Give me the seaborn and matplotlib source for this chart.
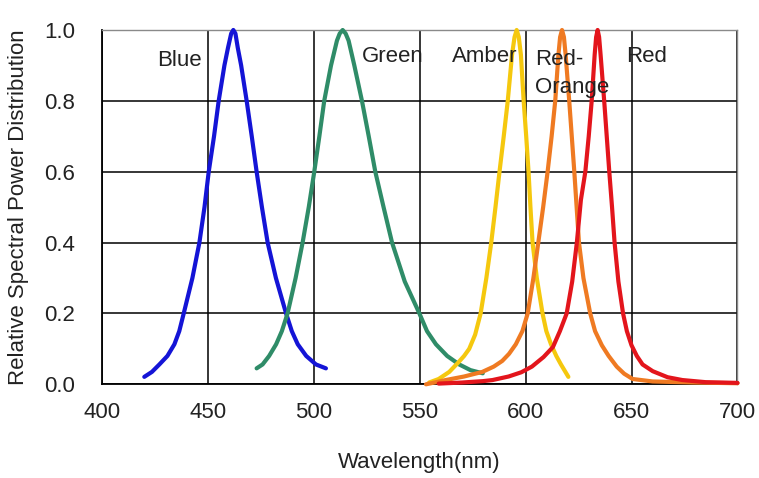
import matplotlib
matplotlib.use("Agg")
import matplotlib.pyplot as plt
import pandas as pd
import seaborn as sns

# ---- data ----
led_names = ["Blue", "Green", "Amber", "Red-Orange", "Red"]
led_colors = ["#1414d6", "#2f8c68", "#f5c80e", "#ef7a22", "#e3151c"]

blue_wl = [420.1, 423.7, 427.2, 431.0, 434.3, 436.6, 438.7, 442.8, 446.1, 448.5, 450.5, 453.0,
           455.2, 457.9, 459.6, 461.1, 462.1, 463.1, 464.2, 465.8, 468.4, 470.8, 473.1, 475.6,
           478.3, 482.2, 487.0, 489.7, 492.5, 496.5, 501.1, 505.8]
blue_val = [0.021, 0.035, 0.056, 0.08, 0.113, 0.15, 0.2, 0.3, 0.4, 0.5, 0.6, 0.7,
            0.8, 0.9, 0.95, 0.99, 1.0, 0.99, 0.95, 0.9, 0.8, 0.7, 0.6, 0.5,
            0.4, 0.3, 0.2, 0.15, 0.113, 0.08, 0.056, 0.045]

green_wl = [473.1, 475.9, 479.0, 482.3, 485.0, 487.7, 491.5, 494.8, 497.7, 500.3, 502.7, 505.0,
            508.2, 511.0, 512.3, 513.7, 515.1, 516.5, 519.2, 522.8, 526.0, 529.1, 533.0, 537.0,
            543.0, 549.9, 553.5, 557.7, 563.0, 568.7, 574.0, 579.8]
green_val = [0.045, 0.056, 0.08, 0.113, 0.15, 0.2, 0.3, 0.4, 0.5, 0.6, 0.7, 0.8,
             0.9, 0.97, 0.99, 1.0, 0.99, 0.97, 0.9, 0.8, 0.7, 0.6, 0.5, 0.4,
             0.29, 0.2, 0.15, 0.113, 0.08, 0.056, 0.04, 0.031]

amber_wl = [554.5, 559.0, 564.0, 568.0, 571.0, 573.4, 576.2, 578.8, 581.5, 583.8, 585.8, 587.7,
            589.7, 591.6, 593.6, 594.8, 595.8, 596.8, 597.8, 599.1, 600.3, 601.4, 602.3, 603.3,
            605.3, 608.0, 609.8, 612.0, 614.5, 616.7, 620.2]
amber_val = [0.005, 0.015, 0.035, 0.06, 0.08, 0.1, 0.14, 0.2, 0.3, 0.4, 0.5, 0.6,
             0.7, 0.8, 0.93, 0.98, 1.0, 0.98, 0.93, 0.8, 0.7, 0.6, 0.5, 0.4,
             0.3, 0.2, 0.15, 0.113, 0.08, 0.056, 0.021]

redorange_wl = [553.0, 557.0, 562.3, 571.0, 579.6, 585.0, 589.0, 592.2, 595.4, 598.5, 601.0,
                603.7, 606.0, 608.3, 610.4, 612.3, 614.0, 615.5, 616.3, 617.2, 618.1, 618.9,
                620.6, 621.8, 623.0, 624.1, 625.2, 627.3, 630.5, 632.8, 636.0, 639.2, 643.0,
                646.5, 650.5, 660.0, 680.0, 700.0]
redorange_val = [0.0, 0.005, 0.012, 0.022, 0.035, 0.05, 0.066, 0.086, 0.113, 0.15, 0.2,
                 0.3, 0.4, 0.5, 0.6, 0.7, 0.8, 0.93, 0.98, 1.0, 0.98, 0.93,
                 0.8, 0.7, 0.6, 0.5, 0.4, 0.3, 0.2, 0.15, 0.11, 0.08, 0.05,
                 0.03, 0.015, 0.008, 0.005, 0.003]

red_wl = [559.0, 570.0, 580.0, 584.4, 592.0, 598.0, 603.0, 608.5, 612.9, 616.2, 619.4, 622.0,
          624.2, 626.1, 628.2, 629.8, 631.2, 632.6, 633.3, 634.0, 634.7, 635.4, 637.1, 638.3,
          639.5, 640.8, 642.0, 643.8, 646.0, 647.8, 650.0, 652.5, 655.2, 660.0, 667.0, 674.0,
          685.0, 700.0]
red_val = [0.002, 0.005, 0.009, 0.012, 0.022, 0.034, 0.05, 0.077, 0.105, 0.15, 0.2, 0.29,
           0.4, 0.52, 0.6, 0.7, 0.8, 0.93, 0.98, 1.0, 0.98, 0.93, 0.8, 0.7,
           0.6, 0.5, 0.4, 0.29, 0.2, 0.15, 0.11, 0.08, 0.056, 0.037, 0.02, 0.012,
           0.006, 0.004]

x_ticks = [400, 450, 500, 550, 600, 650, 700]
y_ticks = [0.0, 0.2, 0.4, 0.6, 0.8, 1.0]
y_tick_labels = ["0.0", "0.2", "0.4", "0.6", "0.8", "1.0"]

# label anchors (left edge wavelength, vertical value)
label_texts = ["Blue", "Green", "Amber", "Red-\nOrange", "Red"]
label_x = [426.0, 522.6, 565.3, 604.3, 647.5]
label_y = [0.913, 0.925, 0.925, 0.877, 0.925]

x_title = "Wavelength(nm)"
y_title = "Relative Spectral Power Distribution"

# ---- build long-form table ----
series = [blue_wl, green_wl, amber_wl, redorange_wl, red_wl]
values = [blue_val, green_val, amber_val, redorange_val, red_val]
rows = []
for name, wl, val in zip(led_names, series, values):
    rows += [(name, w, v) for w, v in zip(wl, val)]
df = pd.DataFrame(rows, columns=["LED", "Wavelength", "Power"])
palette = dict(zip(led_names, led_colors))

sns.set_style("white")
plt.rcParams["font.family"] = ["Liberation Sans", "DejaVu Sans"]

W, H = 759, 478
fig = plt.figure(figsize=(W / 100, H / 100), dpi=100)
left, right, top, bottom = 101.7, 737.5, 30.0, 384.3
ax = fig.add_axes([left / W, (H - bottom) / H, (right - left) / W, (bottom - top) / H])

sns.lineplot(data=df, x="Wavelength", y="Power", hue="LED", hue_order=led_names,
             palette=palette, estimator=None, sort=False, legend=False,
             linewidth=3.0, ax=ax)
for ln in ax.lines:
    ln.set_clip_on(False)
    ln.set_solid_capstyle("round")
    ln.set_solid_joinstyle("round")
    ln.set_zorder(3)

ax.set_xlim(400, 700)
ax.set_ylim(0, 1.0)
ax.set_xticks(x_ticks)
ax.set_xticklabels([str(t) for t in x_ticks])
ax.set_yticks(y_ticks)
ax.set_yticklabels(y_tick_labels)
ax.tick_params(axis="both", length=0, labelsize=16, labelcolor="#222222")
ax.tick_params(axis="x", pad=13)
ax.tick_params(axis="y", pad=19)

ax.grid(True, color="black", linewidth=1.1)
ax.set_axisbelow(True)
for side in ["left", "bottom"]:
    ax.spines[side].set_color("black")
    ax.spines[side].set_linewidth(1.3)
for side in ["top", "right"]:
    ax.spines[side].set_color("#8a8a8a")
    ax.spines[side].set_linewidth(1.0)

ax.set_xlabel(x_title, fontsize=16, color="#222222")
ax.xaxis.set_label_coords(0.5, -0.19)
ax.set_ylabel(y_title, fontsize=16, color="#222222", va="center")
ax.yaxis.set_label_coords((18 - left) / (right - left), 0.5)

for t, x, y in zip(label_texts, label_x, label_y):
    ax.text(x, y, t, fontsize=16, color="#222222", ha="left", va="center",
            linespacing=1.45, zorder=4)

fig.savefig("out.png", dpi=100, facecolor="white")
